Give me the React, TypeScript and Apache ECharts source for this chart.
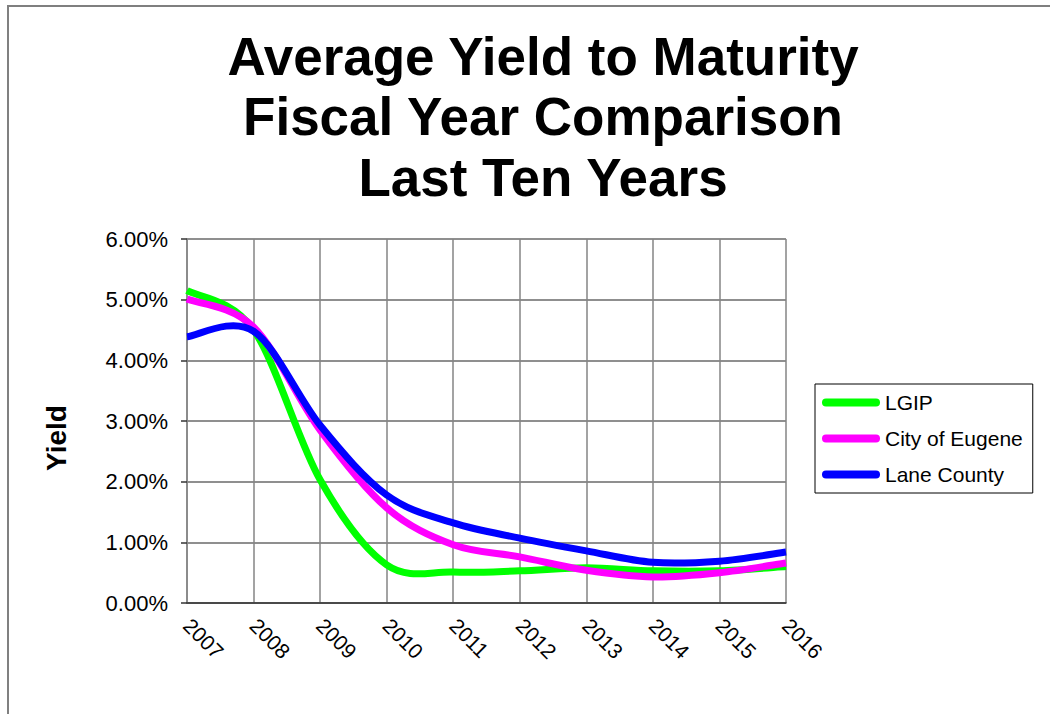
import React, { useEffect, useRef } from "react";
import * as echarts from "echarts";

// Fiscal years on the category axis
const years = ["2007", "2008", "2009", "2010", "2011", "2012", "2013", "2014", "2015", "2016"];

// Average yield to maturity, in percent
const lgip = [5.15, 4.5, 2.03, 0.63, 0.51, 0.53, 0.58, 0.53, 0.53, 0.6];
const cityOfEugene = [5.01, 4.55, 2.85, 1.57, 0.96, 0.76, 0.54, 0.43, 0.5, 0.66];
const laneCounty = [4.39, 4.48, 2.93, 1.78, 1.32, 1.07, 0.86, 0.67, 0.69, 0.84];

const seriesNames = ["LGIP", "City of Eugene", "Lane County"];
const seriesColors = ["#00ff00", "#ff00ff", "#0000ff"];

const titleLines = ["Average Yield to Maturity", "Fiscal Year Comparison", "Last Ten Years"];

const FONT = "'Liberation Sans', Arial, sans-serif";

// Catmull-Rom style smoothing (spreadsheet "smoothed line") through pixel points
function smoothPath(pts: number[][]): string {
  if (!pts.length) return "";
  let d = `M${pts[0][0]},${pts[0][1]}`;
  for (let i = 0; i < pts.length - 1; i++) {
    const p0 = pts[i - 1] || pts[i];
    const p1 = pts[i];
    const p2 = pts[i + 1];
    const p3 = pts[i + 2] || pts[i + 1];
    const c1x = p1[0] + (p2[0] - p0[0]) / 6;
    const c1y = p1[1] + (p2[1] - p0[1]) / 6;
    const c2x = p2[0] - (p3[0] - p1[0]) / 6;
    const c2y = p2[1] - (p3[1] - p1[1]) / 6;
    d += ` C${c1x},${c1y} ${c2x},${c2y} ${p2[0]},${p2[1]}`;
  }
  return d;
}

export default function App() {
  const ref = useRef<HTMLDivElement>(null);

  useEffect(() => {
    if (!ref.current) return;
    const chart = echarts.init(ref.current, null, { renderer: "svg" });

    const seriesData = [lgip, cityOfEugene, laneCounty];

    chart.setOption({
      animation: false,
      backgroundColor: "#ffffff",
      textStyle: { fontFamily: FONT },
      grid: { left: 187, right: 264, top: 239, bottom: 111, containLabel: false },
      xAxis: {
        type: "category",
        data: years,
        boundaryGap: false,
        axisLine: { show: true, lineStyle: { color: "#333", width: 1.5 } },
        axisTick: { show: false },
        axisLabel: {
          rotate: -45,
          fontSize: 21,
          color: "#000",
          fontFamily: FONT,
          margin: 19,
          interval: 0,
        },
        splitLine: { show: true, lineStyle: { color: "#858585", width: 1.5 } },
      },
      yAxis: {
        type: "value",
        min: 0,
        max: 6,
        interval: 1,
        axisLine: { show: true, lineStyle: { color: "#858585", width: 1.5 } },
        axisTick: { show: true, length: 6, lineStyle: { color: "#333", width: 1.5 } },
        axisLabel: {
          fontSize: 22,
          color: "#000",
          fontFamily: FONT,
          margin: 19,
          formatter: (v: number) => v.toFixed(2) + "%",
        },
        splitLine: { show: true, lineStyle: { color: "#6a6a6a", width: 1.5 } },
      },
      legend: {
        orient: "vertical",
        left: 815,
        top: 384,
        padding: [8, 10, 8, 7],
        itemWidth: 58,
        itemHeight: 8,
        itemGap: 15,
        borderColor: "#000",
        borderWidth: 1,
        icon: "path://M4,0 L54,0 A4,4 0 0 1 54,8 L4,8 A4,4 0 0 1 4,0 Z",
        textStyle: { fontSize: 21, lineHeight: 21, color: "#000", fontFamily: FONT },
        data: seriesNames,
      },
      series: seriesNames.map((name, i) => {
        const values = seriesData[i];
        const color = seriesColors[i];
        return {
          name,
          type: "custom",
          data: values.map((v, k) => [k, v]),
          encode: { x: 0, y: 1 },
          itemStyle: { color },
          z: 2 + i,
          silent: true,
          renderItem: (params: any, api: any) => {
            // the whole smoothed line is drawn once, from the first item
            if (params.dataIndex !== 0) return null;
            const pts = values.map((v, k) => api.coord([k, v]));
            return {
              type: "path",
              shape: { pathData: smoothPath(pts) },
              style: { stroke: color, lineWidth: 7, fill: "none" },
            };
          },
        };
      }),
      graphic: [
        // page frame
        {
          type: "line",
          shape: { x1: 7, y1: 6, x2: 1050, y2: 6 },
          style: { stroke: "#555", lineWidth: 1.5 },
        },
        {
          type: "line",
          shape: { x1: 8, y1: 6, x2: 8, y2: 714 },
          style: { stroke: "#808080", lineWidth: 2 },
        },
        ...titleLines.map((t, i) => ({
          type: "text",
          x: 543,
          y: 56 + i * 60.5,
          style: {
            text: t,
            font: `bold 53px ${FONT}`,
            fill: "#000",
            textAlign: "center",
            textVerticalAlign: "middle",
          },
        })),
        {
          type: "text",
          x: 56,
          y: 438,
          rotation: Math.PI / 2,
          style: {
            text: "Yield",
            font: `bold 28px ${FONT}`,
            fill: "#000",
            textAlign: "center",
            textVerticalAlign: "middle",
          },
        },
      ],
    });

    return () => chart.dispose();
  }, []);

  return (
    <div
      ref={ref}
      style={{ position: "fixed", left: 0, top: 0, width: 1050, height: 714, background: "#fff" }}
    />
  );
}
